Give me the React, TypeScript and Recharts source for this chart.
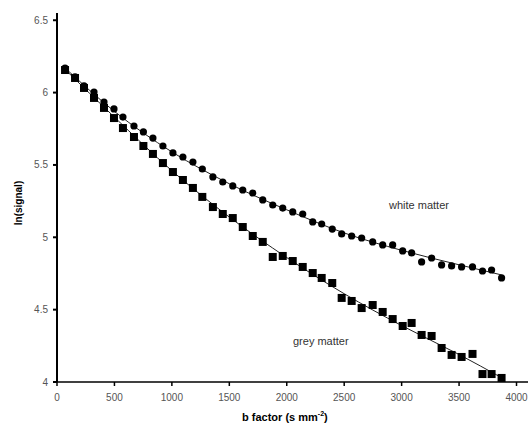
import React from "react";
import {
  ComposedChart,
  Scatter,
  Line,
  XAxis,
  YAxis,
} from "recharts";

// b factor (s mm^-2) for each acquisition
const bValues = [
  70, 157, 235, 322, 409, 496, 574, 670, 752, 835, 922, 1009, 1096, 1183, 1265,
  1357, 1443, 1530, 1617, 1704, 1791, 1878, 1965, 2052, 2139, 2226, 2304, 2396,
  2478, 2565, 2652, 2748, 2835, 2922, 3009, 3087, 3174, 3261, 3348, 3435, 3522,
  3617, 3704, 3783, 3870,
];

// ln(signal), white matter (circles)
const whiteValues = [
  6.17, 6.108, 6.046, 6.004, 5.935, 5.887, 5.831, 5.769, 5.728, 5.686, 5.631,
  5.583, 5.555, 5.52, 5.472, 5.417, 5.382, 5.355, 5.327, 5.306, 5.258, 5.223,
  5.202, 5.175, 5.161, 5.106, 5.092, 5.057, 5.023, 5.009, 4.995, 4.968, 4.947,
  4.947, 4.906, 4.892, 4.83, 4.857, 4.809, 4.802, 4.795, 4.795, 4.767, 4.774,
  4.719,
];

// ln(signal), grey matter (squares)
const greyValues = [
  6.156, 6.101, 6.032, 5.963, 5.894, 5.824, 5.755, 5.693, 5.631, 5.576, 5.513,
  5.451, 5.396, 5.341, 5.279, 5.209, 5.161, 5.133, 5.071, 5.009, 4.968, 4.864,
  4.871, 4.836, 4.795, 4.753, 4.719, 4.684, 4.581, 4.56, 4.511, 4.532, 4.484,
  4.435, 4.387, 4.408, 4.325, 4.318, 4.235, 4.187, 4.173, 4.194, 4.055, 4.055,
  4.028,
];

// fitted curves
const fitB = [70, 500, 1000, 1500, 2000, 2500, 3000, 3500, 3870];
const whiteFitValues = [6.17, 5.87, 5.59, 5.37, 5.19, 5.03, 4.91, 4.81, 4.74];
const greyFitValues = [6.16, 5.83, 5.46, 5.14, 4.86, 4.61, 4.39, 4.19, 4.03];

const xTicks = [0, 500, 1000, 1500, 2000, 2500, 3000, 3500, 4000];
const yTicks = [4, 4.5, 5, 5.5, 6, 6.5];

const whiteData = bValues.map((b, i) => ({ b, v: whiteValues[i] }));
const greyData = bValues.map((b, i) => ({ b, v: greyValues[i] }));
const whiteFit = fitB.map((b, i) => ({ b, v: whiteFitValues[i] }));
const greyFit = fitB.map((b, i) => ({ b, v: greyFitValues[i] }));

const font = "'Liberation Sans', Arial, sans-serif";

const Dot = (props: any) => (
  <circle cx={props.cx} cy={props.cy} r={3.6} fill="#000" />
);
const Square = (props: any) => (
  <rect x={props.cx - 4} y={props.cy - 4} width={8} height={8} fill="#000" />
);

const tickStyle = { fontSize: 10, fill: "#555", fontFamily: font };

export default function App() {
  return (
    <div
      style={{
        position: "absolute",
        left: 0,
        top: 0,
        width: 529,
        height: 426,
        background: "#fff",
        fontFamily: font,
      }}
    >
      <ComposedChart
        width={529}
        height={426}
        margin={{ top: 13, right: 1, bottom: 0, left: 0 }}
      >
        <XAxis
          dataKey="b"
          type="number"
          domain={[0, 4100]}
          ticks={xTicks}
          allowDataOverflow
          stroke="#000"
          strokeWidth={1.5}
          tickSize={4}
          tickMargin={8}
          height={44}
          tick={tickStyle}
        />
        <YAxis
          dataKey="v"
          type="number"
          domain={[4, 6.55]}
          ticks={yTicks}
          allowDataOverflow
          stroke="#000"
          strokeWidth={2}
          tickSize={4}
          tickMargin={5}
          width={57}
          tick={tickStyle}
        />
        <Line
          data={whiteFit}
          dataKey="v"
          type="monotone"
          stroke="#222"
          strokeWidth={1}
          dot={false}
          activeDot={false}
          isAnimationActive={false}
        />
        <Line
          data={greyFit}
          dataKey="v"
          type="monotone"
          stroke="#222"
          strokeWidth={1}
          dot={false}
          activeDot={false}
          isAnimationActive={false}
        />
        <Scatter
          data={whiteData}
          dataKey="v"
          shape={Dot}
          isAnimationActive={false}
        />
        <Scatter
          data={greyData}
          dataKey="v"
          shape={Square}
          isAnimationActive={false}
        />
      </ComposedChart>

      {/* annotations */}
      <span
        style={{ position: "absolute", left: 389, top: 199, fontSize: 11, color: "#333" }}
      >
        white matter
      </span>
      <span
        style={{ position: "absolute", left: 293, top: 335, fontSize: 11, color: "#333" }}
      >
        grey matter
      </span>
      <div
        style={{
          position: "absolute",
          left: 242,
          top: 410,
          fontSize: 11,
          fontWeight: "bold",
          whiteSpace: "nowrap",
        }}
      >
        b factor (s mm<sup style={{ fontSize: 7 }}>-2</sup>)
      </div>
      <div
        style={{
          position: "absolute",
          left: 18,
          top: 203,
          fontSize: 10,
          fontWeight: "bold",
          whiteSpace: "nowrap",
          transform: "translate(-50%, -50%) rotate(-90deg)",
        }}
      >
        ln(signal)
      </div>
    </div>
  );
}
